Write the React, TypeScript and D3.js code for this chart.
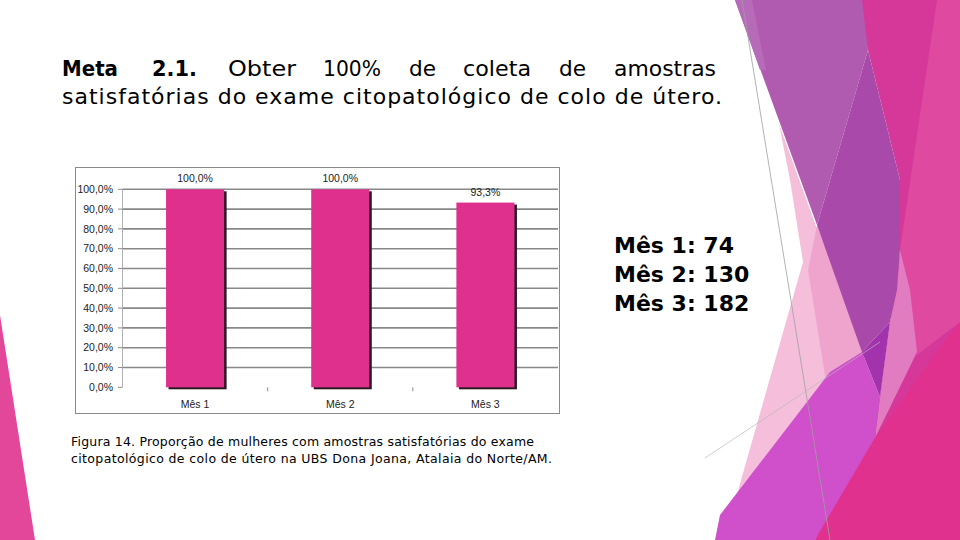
import React from "react";
import * as d3 from "d3";

const categories = ["Mês 1", "Mês 2", "Mês 3"];
const values = [100, 100, 93.3];
const yTicks = [0, 10, 20, 30, 40, 50, 60, 70, 80, 90, 100];
const counts = [74, 130, 182];

const titleLine1 = [
  { w: "Meta", bold: true, x: 62, len: 56 },
  { w: "2.1.", bold: true, x: 152, len: 45 },
  { w: "Obter", bold: false, x: 228, len: 68 },
  { w: "100%", bold: false, x: 323, len: 58 },
  { w: "de", bold: false, x: 409, len: 27 },
  { w: "coleta", bold: false, x: 463, len: 68 },
  { w: "de", bold: false, x: 559, len: 27 },
  { w: "amostras", bold: false, x: 614, len: 102 },
];
const titleLine2 = "satisfatórias do exame citopatológico de colo de útero.";
const captionLines = [
  "Figura 14. Proporção de mulheres com amostras satisfatórias do exame",
  "citopatológico de colo de útero na UBS Dona Joana, Atalaia do Norte/AM.",
];

const decor = [
  { pts: "0,315 35,540 0,540", fill: "#e2479a" },
  { pts: "855,0 960,0 960,540 815,540 880,397 900,250 900,180 868,50", fill: "#d6389a" },
  { pts: "937,0 960,0 960,322 917,355 900,250", fill: "#e049a0" },
  { pts: "779,124 878,397 815,540 724,540 803,262 790,180", fill: "#f5bfdc" },
  { pts: "817,225 866,356 826,382 808,270", fill: "#efa4ce" },
  { pts: "735,0 862,0 868,50 817,225", fill: "#b05ab0" },
  { pts: "735,0 752,0 766,70 760,70", fill: "#b66ab8" },
  { pts: "868,50 900,180 900,250 897,290 890,322 862,352 817,225", fill: "#a949a9" },
  { pts: "900,250 910,290 917,352 875,438 880,397 890,322 897,290", fill: "#e27cc0" },
  { pts: "720,515 830,372 862,352 880,397 875,438 815,540 715,540", fill: "#d04fca" },
  { pts: "815,540 875,438 940,347 960,322 960,540", fill: "#e1318f" },
  { pts: "890,322 862,352 880,397", fill: "#a332ad" },
];

const fmt = (v: number) => d3.format(".1f")(v).replace(".", ",") + "%";

export default function App() {
  const x = d3
    .scaleBand<string>()
    .domain(categories)
    .range([122.5, 558])
    .paddingInner(0.6)
    .paddingOuter(0.3);
  const y = d3.scaleLinear().domain([0, 100]).range([387.3, 189.3]);
  const step = x.step();
  const axisFont = "'Liberation Sans', Arial, sans-serif";
  const textFont = "'DejaVu Sans', sans-serif";

  return (
    <svg
      width={960}
      height={540}
      style={{ position: "absolute", left: 0, top: 0, background: "#fff" }}
    >
      <rect x={0} y={0} width={960} height={540} fill="#fff" />
      {decor.map((d, i) => (
        <polygon key={i} points={d.pts} fill={d.fill} />
      ))}
      <line x1={742} y1={0} x2={830} y2={540} stroke="#a0a0a0" strokeWidth={0.8} />
      <line x1={705} y1={458} x2={880} y2={342} stroke="#b8b8b8" strokeWidth={0.7} />

      {/* Title */}
      <text y={76} fontFamily={textFont} fontSize={22} fill="#000">
        {titleLine1.map((t, i) => (
          <tspan
            key={i}
            x={t.x}
            fontWeight={t.bold ? "bold" : "normal"}
            textLength={t.len}
            lengthAdjust="spacingAndGlyphs"
          >
            {t.w}
          </tspan>
        ))}
      </text>
      <text
        x={62}
        y={104}
        fontFamily={textFont}
        fontSize={22}
        fill="#000"
        textLength={660}
        lengthAdjust="spacing"
      >
        {titleLine2}
      </text>

      {/* Counts */}
      {counts.map((c, i) => (
        <text
          key={i}
          x={614}
          y={253 + i * 29}
          fontFamily={textFont}
          fontSize={22}
          fontWeight="bold"
          fill="#000"
        >
          {`${categories[i]}: ${c}`}
        </text>
      ))}

      {/* Chart frame */}
      <rect x={75.5} y={167.5} width={484} height={246} fill="#fff" stroke="#8a8a8a" strokeWidth={1} />

      {/* gridlines */}
      {yTicks
        .filter((t) => t > 0)
        .map((t) => (
          <line
            key={t}
            x1={122.5}
            x2={558}
            y1={y(t)}
            y2={y(t)}
            stroke="#888"
            strokeWidth={1.6}
          />
        ))}
      {/* y axis */}
      <line x1={122.5} x2={122.5} y1={y(100)} y2={y(0)} stroke="#b0b0b0" strokeWidth={1} />
      {yTicks.map((t) => (
        <g key={t}>
          <line x1={118} x2={122.5} y1={y(t)} y2={y(t)} stroke="#8c8c8c" strokeWidth={1} />
          <text
            x={113}
            y={y(t)}
            dy="0.35em"
            textAnchor="end"
            fontFamily={axisFont}
            fontSize={10.5}
            fill="#222"
          >
            {fmt(t)}
          </text>
        </g>
      ))}
      {/* category separator ticks */}
      {categories.slice(1).map((c, i) => (
        <line
          key={c}
          x1={122.5 + step * (i + 1)}
          x2={122.5 + step * (i + 1)}
          y1={y(0)}
          y2={y(0) + 4}
          stroke="#8c8c8c"
          strokeWidth={1}
        />
      ))}

      {/* bars */}
      {categories.map((c, i) => {
        const bx = x(c) as number;
        const bw = x.bandwidth();
        return (
          <g key={c}>
            <rect x={bx + 2.5} y={y(values[i]) + 2} width={bw} height={y(0) - y(values[i])} fill="#2b1a24" />
            <rect x={bx} y={y(values[i])} width={bw} height={y(0) - y(values[i])} fill="#e0308e" />
            <text
              x={bx + bw / 2}
              y={y(values[i]) - 7}
              textAnchor="middle"
              fontFamily={axisFont}
              fontSize={10.5}
              fill="#222"
            >
              {fmt(values[i])}
            </text>
            <text
              x={bx + bw / 2}
              y={408}
              textAnchor="middle"
              fontFamily={axisFont}
              fontSize={10.5}
              fill="#222"
            >
              {c}
            </text>
          </g>
        );
      })}

      {/* caption */}
      {captionLines.map((l, i) => (
        <text
          key={i}
          x={71}
          y={446 + i * 17}
          fontFamily={textFont}
          fontSize={12.5}
          fill="#000"
          textLength={i === 0 ? 463 : 481}
          lengthAdjust="spacing"
        >
          {l}
        </text>
      ))}
    </svg>
  );
}
